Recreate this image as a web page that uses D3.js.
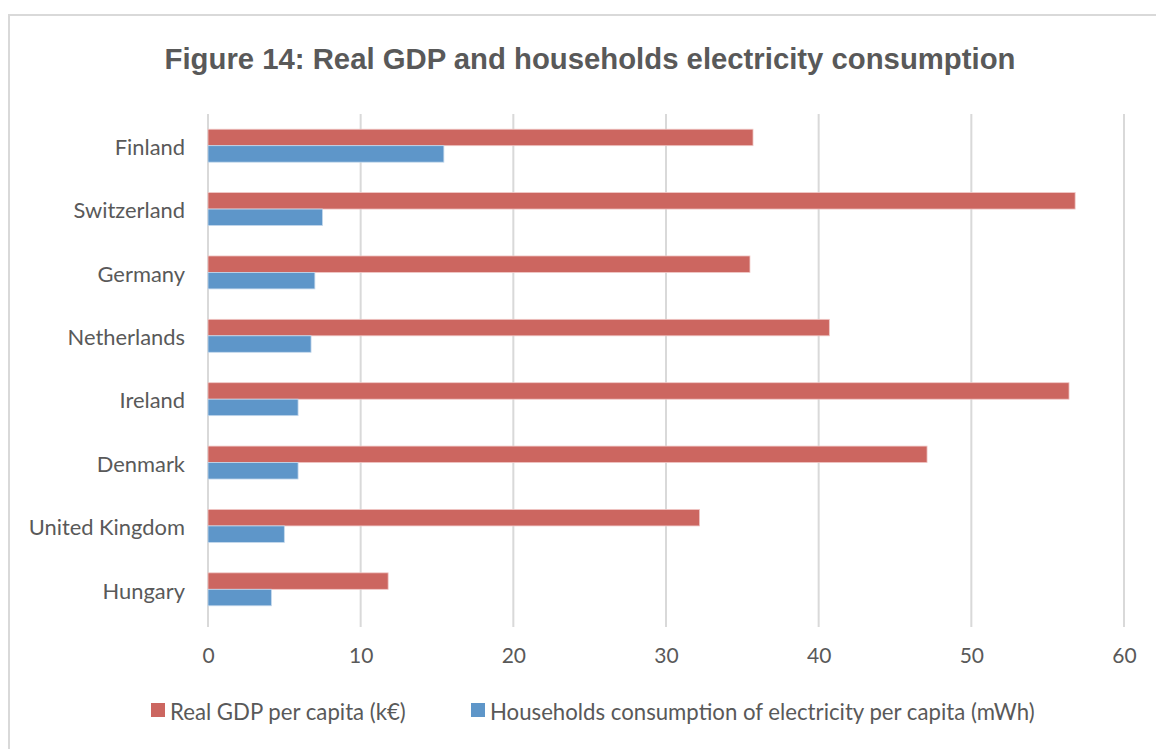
<!DOCTYPE html>
<html>
<head>
<meta charset="utf-8">
<script src="https://cdn.jsdelivr.net/npm/d3@7"></script>
<style>
    body { margin: 0; background: #fff; }
    svg { display: block; }
</style>
</head>
<body>
<div id="chart"></div>
<script>
// chart data
const countries = ["Finland", "Switzerland", "Germany", "Netherlands", "Ireland", "Denmark", "United Kingdom", "Hungary"];
const gdpValues = [35.7, 56.8, 35.5, 40.7, 56.4, 47.1, 32.2, 11.8];
const elecValues = [15.45, 7.5, 7.0, 6.75, 5.9, 5.9, 5.0, 4.15];
const seriesLabels = ["Real GDP per capita (k\u20ac)", "Households consumption of electricity per capita (mWh)"];
const xTicks = [0, 10, 20, 30, 40, 50, 60];

const width = 1156;
const height = 749;
const margin = { top: 114, right: 32, bottom: 128, left: 208 };
const colors = ["#CC6660", "#5E96C9"];
const textColor = "#595959";

const svg = d3.select("#chart")
    .append("svg")
    .attr("width", width)
    .attr("height", height);

// frame
svg.append("rect")
    .attr("x", 9)
    .attr("y", 15)
    .attr("width", width + 20)
    .attr("height", height + 20)
    .attr("fill", "#fff")
    .attr("stroke", "#d9d9d9")
    .attr("stroke-width", 2);

svg.append("text")
    .attr("x", 590)
    .attr("y", 69)
    .attr("text-anchor", "middle")
    .style("font-family", "'Liberation Sans', Arial, sans-serif")
    .style("font-size", "29.3px")
    .style("font-weight", "bold")
    .style("fill", textColor)
    .text("Figure 14: Real GDP and households electricity consumption");

const data = countries.map((c, i) => ({ country: c, values: [gdpValues[i], elecValues[i]] }));

const x = d3.scaleLinear()
    .domain([0, 60])
    .range([margin.left, width - margin.right]);

const y = d3.scaleBand()
    .domain(countries)
    .range([margin.top, height - margin.bottom])
    .paddingInner(0.48)
    .paddingOuter(0.24);

const ySub = d3.scaleBand()
    .domain([0, 1])
    .range([0, y.bandwidth()]);

// gridlines
svg.append("g")
    .selectAll("line")
    .data(xTicks)
    .enter()
    .append("line")
    .attr("x1", d => x(d))
    .attr("x2", d => x(d))
    .attr("y1", margin.top)
    .attr("y2", height - margin.bottom + 6)
    .attr("stroke", "#d9d9d9")
    .attr("stroke-width", 2);

// bars
svg.append("g")
    .selectAll("g")
    .data(data)
    .enter()
    .append("g")
    .attr("transform", d => `translate(0,${y(d.country)})`)
    .selectAll("rect")
    .data(d => d.values)
    .enter()
    .append("rect")
    .attr("x", x(0))
    .attr("y", (d, i) => ySub(i))
    .attr("width", d => x(d) - x(0))
    .attr("height", ySub.bandwidth())
    .attr("fill", (d, i) => colors[i])
    .attr("stroke", (d, i) => i === 0 ? "#f0c8c6" : "#c4d8ec")
    .attr("stroke-width", 0.8);

// axis labels
const xAxis = d3.axisBottom(x)
    .tickValues(xTicks)
    .tickSize(0)
    .tickPadding(0);

const xg = svg.append("g")
    .attr("transform", `translate(0,${height - margin.bottom})`)
    .call(xAxis);
xg.select(".domain").remove();
xg.selectAll("text")
    .attr("dy", null)
    .attr("y", 42)
    .style("font-family", "Lato, 'Open Sans', sans-serif")
    .style("font-size", "21px")
    .style("fill", textColor);

const yg = svg.append("g")
    .attr("transform", `translate(${margin.left},0)`)
    .call(d3.axisLeft(y).tickSize(0).tickPadding(23));
yg.select(".domain").remove();
yg.selectAll("text")
    .attr("dy", "0.42em")
    .style("font-family", "Lato, 'Open Sans', sans-serif")
    .style("font-size", "21.9px")
    .style("fill", textColor);

// legend
const legendX = [151, 471];
const legend = svg.append("g");
seriesLabels.forEach((label, i) => {
    const row = legend.append("g")
        .attr("transform", `translate(${legendX[i]}, 703)`);
    row.append("rect")
        .attr("width", 14)
        .attr("height", 14)
        .attr("fill", colors[i]);
    row.append("text")
        .attr("x", 19)
        .attr("y", 17)
        .style("font-family", "Lato, 'Open Sans', sans-serif")
        .style("font-size", "22.2px")
        .style("fill", textColor)
        .text(label);
});
</script>
</body>
</html>
